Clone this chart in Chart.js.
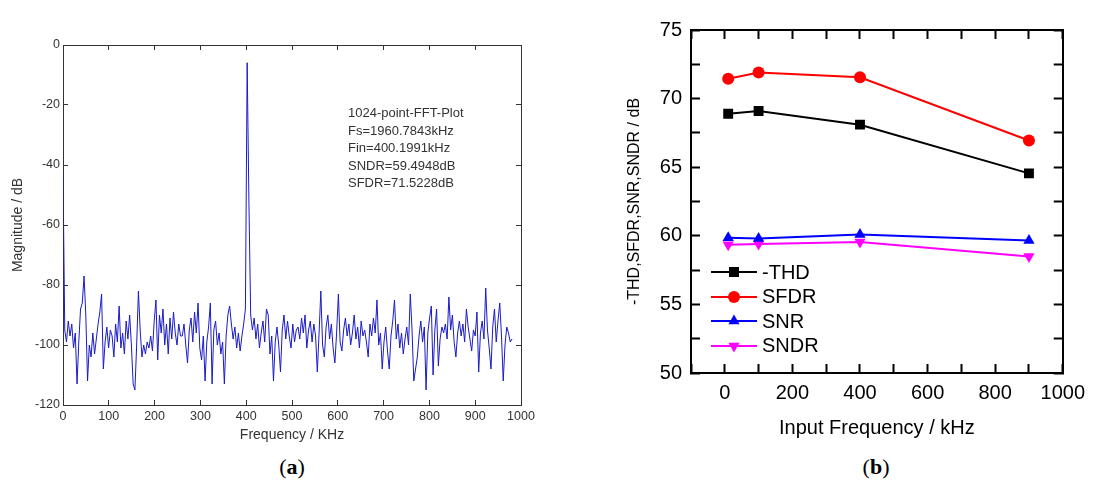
<!DOCTYPE html>
<html>
<head>
<meta charset="utf-8">
<script src="https://cdn.jsdelivr.net/npm/chart.js@4.4.1/dist/chart.umd.min.js"></script>
<style>
  html, body { margin: 0; padding: 0; background: #fff; }
  body { width: 1102px; height: 491px; position: relative; overflow: hidden; font-family: "Liberation Sans", Arial, sans-serif; }
  #fftChart { position: absolute; left: 0; top: 0; }
  #perfChart { position: absolute; left: 560px; top: 0; }
  .note { position: absolute; left: 348px; top: 104px; font-size: 13px; line-height: 17.5px; color: #333; white-space: nowrap; }
  .caption { position: absolute; top: 454px; width: 60px; text-align: center; font-family: "Liberation Serif", serif; font-size: 22px; line-height: 26px; color: #000; }
  .legend-row { position: absolute; left: 711px; height: 24px; display: flex; align-items: center; font-size: 20px; color: #000; white-space: nowrap; }
  .legend-row svg { width: 46px; height: 20px; margin-right: 5px; }
</style>
</head>
<body>
<canvas id="fftChart" width="560" height="450"></canvas>
<canvas id="perfChart" width="542" height="450"></canvas>
<div class="note" id="note"></div>
<div class="caption" style="left:262px">(<b>a</b>)</div>
<div class="caption" style="left:846px">(<b>b</b>)</div>
<div id="legend"></div>
<script>
// (a) 1024-point FFT, every other bin, dB
const fftLines = ['1024-point-FFT-Plot', 'Fs=1960.7843kHz', 'Fin=400.1991kHz', 'SNDR=59.4948dB', 'SFDR=71.5228dB'];
const fftMagnitude = [
  -43, -95, -99, -92, -97, -93, -101, -96, -113, -99,
  -88, -86, -77, -90, -112, -100, -104, -96, -103, -98,
  -93, -89, -83, -108, -99, -94, -101, -95, -97, -104,
  -93, -99, -87, -101, -96, -103, -92, -98, -90, -100,
  -113, -115, -100, -82, -95, -104, -100, -103, -99, -101,
  -97, -102, -92, -85, -105, -90, -96, -88, -100, -93,
  -103, -91, -98, -89, -96, -100, -93, -97,
  -97, -93, -100, -106, -95, -91, -99, -89, -96, -86,
  -101, -105, -97, -112, -99, -94, -86, -113, -95, -92,
  -100, -96, -103, -99, -113, -97, -90, -87, -93, -98,
  -94, -101, -96, -102, -97, -93, -88, -5.9, -52.6, -90,
  -95, -91, -98, -93, -101, -96, -92, -99, -88, -90,
  -103, -97, -112, -99, -94, -100, -109, -95, -90, -98,
  -92, -97, -101, -93, -99, -95,
  -94, -98, -91, -96, -90, -101, -95, -92, -99, -93,
  -97, -109, -96, -82, -100, -104, -94, -90, -98, -93,
  -101, -106, -96, -83, -99, -102, -95, -91, -97, -93,
  -100, -96, -90, -98, -94, -101, -92, -97, -95, -99,
  -104, -93, -97, -91, -96, -85, -100, -96, -108, -99,
  -94, -102, -108, -97, -92, -85, -98, -93, -101, -96,
  -103, -98, -94, -100, -83, -95, -112,
  -108, -104, -97, -92, -99, -94, -115, -96, -91, -87,
  -110, -95, -88, -107, -98, -94, -96, -93, -98, -84,
  -95, -90, -99, -104, -96, -92, -97, -93, -99, -88,
  -94, -98, -102, -95, -97, -89, -109, -96, -92, -98,
  -81, -95, -101, -108, -94, -88, -99, -92, -86, -97,
  -112, -100, -94, -96, -99, -98
];
const fftStep = 1960.7843 / 512; // kHz between plotted bins

// (b) dynamic performance vs input frequency
const inputFreq = [10, 100, 400, 900];
const thd = [68.9, 69.1, 68.1, 64.55];
const sfdr = [71.45, 71.9, 71.55, 66.95];
const snr = [59.85, 59.8, 60.1, 59.65];
const sndr = [59.35, 59.4, 59.55, 58.5];
const seriesNames = ['-THD', 'SFDR', 'SNR', 'SNDR'];
const seriesColors = ['#000000', '#ff0000', '#0000ff', '#ff00ff'];
const seriesStyles = ['rect', 'circle', 'triangle', 'triangleDown'];

const sans = '"Liberation Sans", Arial, sans-serif';

document.getElementById('note').innerHTML = fftLines.join('<br>');

// inward ticks on every side
function frameAxis(opts, size, color, width, tick) {
  return Object.assign({
    type: 'linear',
    border: { display: true, color: color, width: width },
    grid: { display: true, drawOnChartArea: false, drawTicks: true, tickLength: tick, tickColor: color, tickWidth: width },
    afterFit: (s) => { if (s.isHorizontal()) s.height = size; else s.width = size; }
  }, opts);
}
const plain = (v) => String(v);

// ---- chart (a)
const fftGray = '#333';
new Chart(document.getElementById('fftChart'), {
  type: 'line',
  data: {
    datasets: [{
      data: fftMagnitude.map((v, i) => ({ x: i * fftStep, y: v })),
      borderColor: '#1a1ac8',
      borderWidth: 1,
      pointRadius: 0,
      tension: 0
    }]
  },
  options: {
    responsive: false,
    animation: false,
    layout: { padding: { left: 0, top: 45, right: 39, bottom: 0 } },
    plugins: { legend: { display: false }, tooltip: { enabled: false } },
    scales: {
      x: frameAxis({
        position: 'bottom', min: 0, max: 1000,
        ticks: { stepSize: 100, autoSkip: false, maxRotation: 0, padding: 8.8, color: fftGray, font: { family: sans, size: 12.5 }, callback: plain },
        title: { display: true, text: 'Frequency / KHz', color: fftGray, font: { family: sans, size: 14 }, padding: { top: 0, bottom: 6.6 } }
      }, 45, fftGray, 1, -5),
      y: frameAxis({
        position: 'left', min: -120, max: 0,
        ticks: { stepSize: 20, autoSkip: false, padding: 8, color: fftGray, font: { family: sans, size: 12.5 }, callback: plain },
        title: { display: true, text: 'Magnitude / dB', color: fftGray, font: { family: sans, size: 14 }, padding: { top: 9.6, bottom: 0 } }
      }, 63, fftGray, 1, -5),
      x2: frameAxis({
        position: 'top', min: 0, max: 1000,
        ticks: { display: false, stepSize: 100, autoSkip: false }
      }, 0, fftGray, 1, -5),
      y2: frameAxis({
        position: 'right', min: -120, max: 0,
        ticks: { display: false, stepSize: 20, autoSkip: false }
      }, 0, fftGray, 1, -5)
    }
  }
});

// ---- chart (b)
const perfValues = [thd, sfdr, snr, sndr];
const pointSize = { rect: 7, circle: 6, triangle: 6.5, triangleDown: 6.5 };
new Chart(document.getElementById('perfChart'), {
  type: 'line',
  data: {
    datasets: perfValues.map((vals, k) => ({
      label: seriesNames[k],
      data: vals.map((v, i) => ({ x: inputFreq[i], y: v })),
      borderColor: seriesColors[k],
      backgroundColor: seriesColors[k],
      borderWidth: 2,
      pointStyle: seriesStyles[k] === 'triangleDown' ? 'triangle' : seriesStyles[k],
      pointRotation: seriesStyles[k] === 'triangleDown' ? 180 : 0,
      pointRadius: pointSize[seriesStyles[k]],
      pointBorderWidth: 0,
      tension: 0
    }))
  },
  options: {
    responsive: false,
    animation: false,
    layout: { padding: { left: 0, top: 23, right: 25, bottom: 0 } },
    plugins: { legend: { display: false }, tooltip: { enabled: false } },
    scales: {
      x: frameAxis({
        position: 'bottom', min: -100, max: 1000,
        ticks: { stepSize: 100, autoSkip: false, maxRotation: 0, padding: 17, color: '#000', font: { family: sans, size: 20 },
          callback: (v) => (v >= 0 && v % 200 === 0) ? String(v) : '' },
        title: { display: true, text: 'Input Frequency / kHz', color: '#000', font: { family: sans, size: 20 }, padding: { top: 0, bottom: 10 } }
      }, 77, '#000', 2, -9),
      y: frameAxis({
        position: 'left', min: 50, max: 75,
        ticks: { stepSize: 2.5, autoSkip: false, padding: 18, color: '#000', font: { family: sans, size: 20 },
          callback: (v) => (v % 5 === 0) ? String(v) : '' },
        title: { display: true, text: '-THD,SFDR,SNR,SNDR / dB', color: '#000', font: { family: sans, size: 16 }, padding: { top: 65.4, bottom: 0 } }
      }, 131, '#000', 2, -9),
      x2: frameAxis({
        position: 'top', min: -100, max: 1000,
        ticks: { display: false, stepSize: 100, autoSkip: false }
      }, 0, '#000', 2, -9),
      y2: frameAxis({
        position: 'right', min: 50, max: 75,
        ticks: { display: false, stepSize: 2.5, autoSkip: false }
      }, 0, '#000', 2, -9)
    }
  }
});

// legend for (b), inside the plot
const markerSvg = {
  rect: (c) => `<rect x="18" y="5" width="10" height="10" fill="${c}"/>`,
  circle: (c) => `<circle cx="23" cy="10" r="6" fill="${c}"/>`,
  triangle: (c) => `<polygon points="23,3.5 28.6,13.25 17.4,13.25" fill="${c}"/>`,
  triangleDown: (c) => `<polygon points="23,16.5 28.6,6.75 17.4,6.75" fill="${c}"/>`
};
const legendCenters = [272, 296.5, 321, 345.5];
const legend = document.getElementById('legend');
seriesNames.forEach((name, k) => {
  const row = document.createElement('div');
  row.className = 'legend-row';
  row.style.top = (legendCenters[k] - 12) + 'px';
  row.innerHTML = `<svg viewBox="0 0 46 20"><line x1="0" y1="10" x2="46" y2="10" stroke="${seriesColors[k]}" stroke-width="2"/>` +
    markerSvg[seriesStyles[k]](seriesColors[k]) + `</svg><span>${name}</span>`;
  legend.appendChild(row);
});
</script>
</body>
</html>
